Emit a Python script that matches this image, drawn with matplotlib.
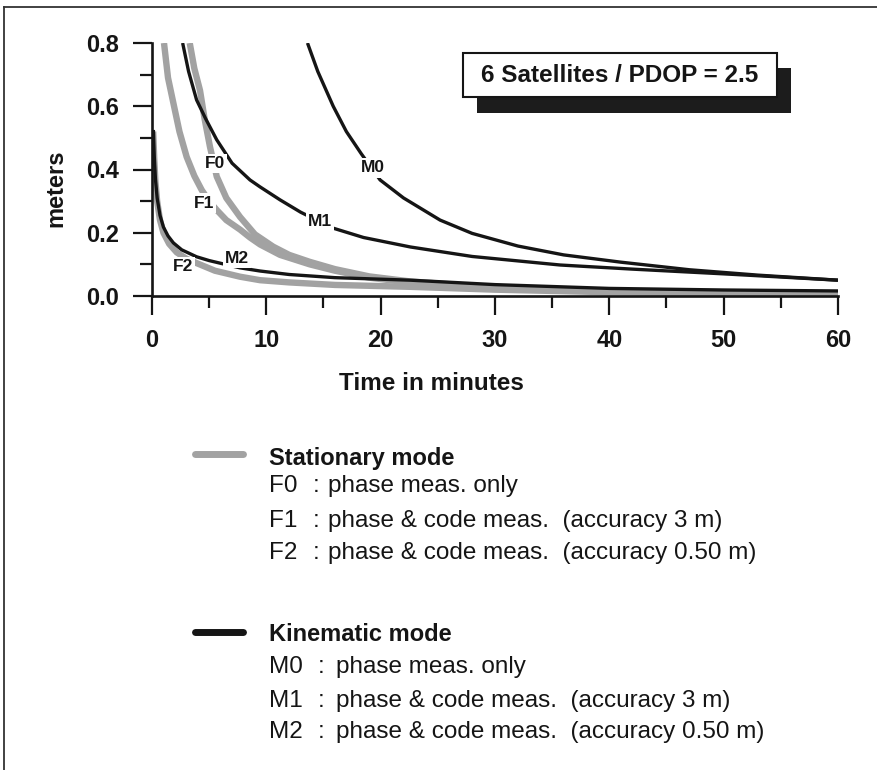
import matplotlib
matplotlib.use('Agg')
import matplotlib.pyplot as plt
from matplotlib.patches import Rectangle
from matplotlib.lines import Line2D
from matplotlib.ticker import MultipleLocator

plt.rcParams['font.family'] = ['Liberation Sans', 'DejaVu Sans']

# ---------------- data ----------------
F0_t = [3.3, 3.7, 4.2, 4.6, 5.07, 5.66, 6.5, 7.7, 9.0, 10.6, 12.0, 13.8, 16.0, 19.0, 22.6, 28.0, 35.7, 45.0, 60.0]
F0_y = [0.80, 0.72, 0.65, 0.56, 0.472, 0.378, 0.31, 0.25, 0.195, 0.156, 0.13, 0.108, 0.085, 0.062, 0.046, 0.032, 0.020, 0.013, 0.008]

F1_t = [1.05, 1.4, 1.87, 2.4, 3.03, 3.7, 4.35, 5.0, 5.66, 6.5, 7.7, 8.57, 9.45, 11.2, 13.8, 16.0, 19.0, 22.6, 28.0, 35.7, 45.0, 60.0]
F1_y = [0.80, 0.69, 0.61, 0.52, 0.44, 0.38, 0.335, 0.30, 0.272, 0.24, 0.21, 0.185, 0.163, 0.13, 0.10, 0.08, 0.058, 0.042, 0.030, 0.018, 0.011, 0.007]

F2_t = [0.1, 0.2, 0.3, 0.45, 0.7, 1.0, 1.5, 2.16, 3.0, 3.9, 5.5, 7.7, 9.45, 12.0, 16.0, 22.6, 30.0, 40.0, 50.0, 60.0]
F2_y = [0.52, 0.43, 0.36, 0.30, 0.24, 0.20, 0.165, 0.138, 0.118, 0.104, 0.08, 0.061, 0.05, 0.043, 0.035, 0.029, 0.020, 0.012, 0.010, 0.008]

M0_t = [13.6, 14.5, 15.85, 17.0, 18.3, 19.95, 22.0, 25.2, 28.0, 32.0, 36.0, 41.0, 47.0, 53.0, 60.0]
M0_y = [0.80, 0.71, 0.60, 0.52, 0.45, 0.367, 0.31, 0.24, 0.198, 0.158, 0.13, 0.107, 0.083, 0.066, 0.05]

M1_t = [2.68, 3.2, 3.9, 4.7, 5.66, 7.0, 8.57, 9.45, 11.2, 13.0, 15.8, 18.5, 22.6, 28.0, 35.7, 42.0, 50.0, 55.0, 60.0]
M1_y = [0.80, 0.71, 0.62, 0.56, 0.494, 0.42, 0.367, 0.345, 0.304, 0.265, 0.215, 0.185, 0.155, 0.125, 0.098, 0.085, 0.07, 0.06, 0.05]

M2_t = [0.12, 0.2, 0.3, 0.45, 0.7, 1.0, 1.4, 1.87, 2.6, 3.9, 5.0, 6.4, 7.7, 9.45, 12.0, 16.0, 22.6, 30.0, 40.0, 50.0, 60.0]
M2_y = [0.525, 0.44, 0.37, 0.31, 0.255, 0.218, 0.19, 0.168, 0.146, 0.124, 0.112, 0.10, 0.089, 0.079, 0.068, 0.058, 0.05, 0.036, 0.024, 0.019, 0.016]

curve_labels = ['F0', 'F1', 'F2', 'M0', 'M1', 'M2']
label_t = [5.5, 4.55, 2.7, 19.35, 14.7, 7.45]
label_y = [0.42, 0.294, 0.092, 0.405, 0.237, 0.12]

xticks = [0, 10, 20, 30, 40, 50, 60]
xtick_labels = ['0', '10', '20', '30', '40', '50', '60']
yticks = [0.0, 0.2, 0.4, 0.6, 0.8]
ytick_labels = ['0.0', '0.2', '0.4', '0.6', '0.8']

box_title = '6 Satellites / PDOP = 2.5'
x_title = 'Time in minutes'
y_title = 'meters'

stat_title = 'Stationary mode'
stat_codes = ['F0', 'F1', 'F2']
stat_desc = ['phase meas. only',
             'phase & code meas.  (accuracy 3 m)',
             'phase & code meas.  (accuracy 0.50 m)']
kin_title = 'Kinematic mode'
kin_codes = ['M0', 'M1', 'M2']
kin_desc = ['phase meas. only',
            'phase & code meas.  (accuracy 3 m)',
            'phase & code meas.  (accuracy 0.50 m)']

# ---------------- figure ----------------
W, H = 878, 770
fig = plt.figure(figsize=(W / 100, H / 100), dpi=100)


def fx(px):
    return px / W


def fy(py):
    return 1 - py / H


ax = fig.add_axes([fx(152), fy(296), fx(838) - fx(152), fy(43) - fy(296)])
ax.patch.set_alpha(0)

GRAY = '#a2a2a2'
BLACK = '#151515'
for t, y in [(F0_t, F0_y), (F1_t, F1_y), (F2_t, F2_y)]:
    ax.plot(t, y, color=GRAY, lw=4.6, solid_capstyle='butt', solid_joinstyle='round', zorder=2)
for t, y in [(M0_t, M0_y), (M1_t, M1_y), (M2_t, M2_y)]:
    ax.plot(t, y, color=BLACK, lw=2.4, solid_capstyle='butt', solid_joinstyle='round', zorder=3)

for lab, lt, ly in zip(curve_labels, label_t, label_y):
    ax.text(lt, ly, lab, ha='center', va='center', fontsize=12.5, fontweight='bold',
            color=BLACK, zorder=5,
            bbox=dict(boxstyle='square,pad=0.12', fc='white', ec='none'))

ax.set_xlim(0, 60)
ax.set_ylim(0, 0.8)
for s in ['top', 'right']:
    ax.spines[s].set_visible(False)
for s in ['left', 'bottom']:
    ax.spines[s].set_linewidth(1.9)
    ax.spines[s].set_color(BLACK)

ax.set_xticks(xticks)
ax.set_xticklabels(xtick_labels, fontweight='bold', fontsize=17)
ax.set_yticks(yticks)
ax.set_yticklabels(ytick_labels, fontweight='bold', fontsize=17)
ax.xaxis.set_minor_locator(MultipleLocator(5))
ax.yaxis.set_minor_locator(MultipleLocator(0.1))
ax.tick_params(which='major', direction='out', length=14, width=1.6, color=BLACK,
               labelcolor=BLACK)
ax.tick_params(axis='x', which='major', pad=10)
ax.tick_params(axis='y', which='major', pad=9.5)
ax.tick_params(which='minor', direction='out', length=8.5, width=1.6, color=BLACK)

fig.text(fx(431), fy(383), x_title, ha='center', va='center', fontsize=17.5,
         fontweight='bold', color=BLACK)
fig.text(fx(56), fy(188), y_title, ha='center', va='center', rotation=90,
         fontsize=17, fontweight='bold', color=BLACK)

# title box with shadow
fig.add_artist(Rectangle((fx(477), fy(113)), fx(791) - fx(477), fy(68) - fy(113),
                         transform=fig.transFigure, fc='#1c1c1c', ec='none', zorder=4))
fig.add_artist(Rectangle((fx(463), fy(97)), fx(777) - fx(463), fy(53) - fy(97),
                         transform=fig.transFigure, fc='white', ec=BLACK, lw=1.5, zorder=5))
fig.text(fx(620), fy(75), box_title, ha='center', va='center', fontsize=17.5,
         fontweight='bold', color=BLACK, zorder=6)

# legend block
fig.add_artist(Line2D([fx(195), fx(243)], [fy(454), fy(454)], transform=fig.transFigure,
                      color=GRAY, lw=5, solid_capstyle='round'))
fig.add_artist(Line2D([fx(195), fx(243)], [fy(632), fy(632)], transform=fig.transFigure,
                      color=BLACK, lw=5, solid_capstyle='round'))

FS = 17.5
fig.text(fx(269), fy(465), stat_title, ha='left', va='baseline', fontsize=17,
         fontweight='bold', color=BLACK)
for code, desc, by in zip(stat_codes, stat_desc, [492, 527, 559]):
    fig.text(fx(269), fy(by), code, ha='left', va='baseline', fontsize=FS, color=BLACK)
    fig.text(fx(313), fy(by), ':', ha='left', va='baseline', fontsize=FS, color=BLACK)
    fig.text(fx(328), fy(by), desc, ha='left', va='baseline', fontsize=FS, color=BLACK)

fig.text(fx(269), fy(641), kin_title, ha='left', va='baseline', fontsize=17,
         fontweight='bold', color=BLACK)
for code, desc, by in zip(kin_codes, kin_desc, [673, 707, 738]):
    fig.text(fx(269), fy(by), code, ha='left', va='baseline', fontsize=FS, color=BLACK)
    fig.text(fx(318), fy(by), ':', ha='left', va='baseline', fontsize=FS, color=BLACK)
    fig.text(fx(336), fy(by), desc, ha='left', va='baseline', fontsize=FS, color=BLACK)

# page frame (top and left edges)
fig.add_artist(Line2D([fx(4), 1], [fy(7), fy(7)], transform=fig.transFigure,
                      color='#333333', lw=1.3))
fig.add_artist(Line2D([fx(4), fx(4)], [fy(7), 0], transform=fig.transFigure,
                      color='#333333', lw=1.3))

fig.savefig('out.png', dpi=100)
